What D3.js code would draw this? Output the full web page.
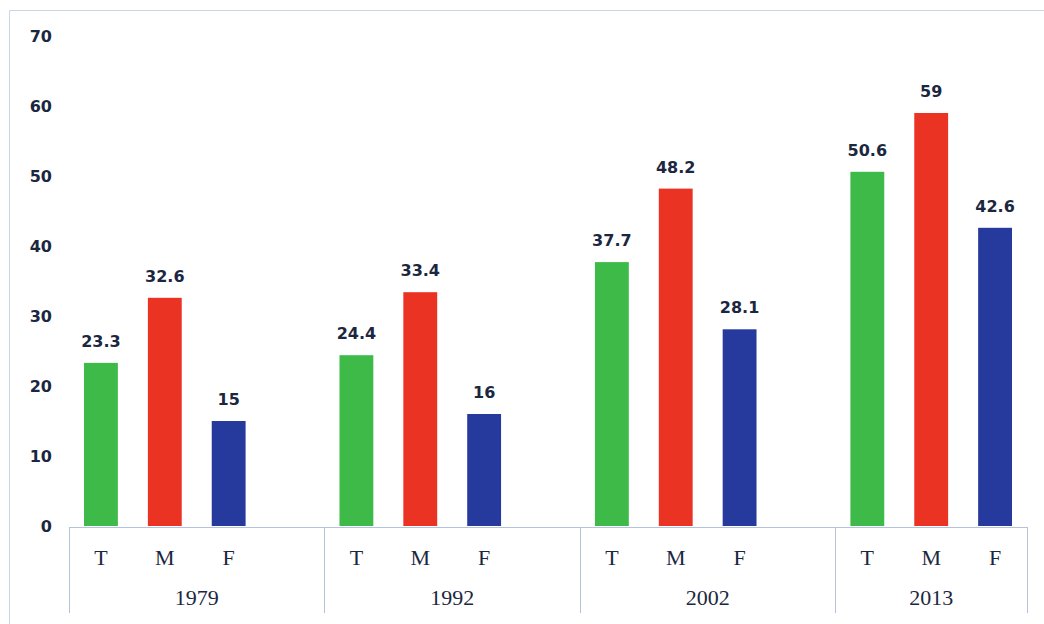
<!DOCTYPE html>
<html>
<head>
<meta charset="utf-8">
<script src="https://cdn.jsdelivr.net/npm/d3@7"></script>
<style>
  body { margin: 0; background: #fff; }
  svg { display: block; }
</style>
</head>
<body>
<svg class="chart"></svg>
<script>
// data
var years = ["1979", "1992", "2002", "2013"];
var categories = ["T", "M", "F"];
var valuesT = [23.3, 24.4, 37.7, 50.6];
var valuesM = [32.6, 33.4, 48.2, 59];
var valuesF = [15, 16, 28.1, 42.6];
var yTicks = [0, 10, 20, 30, 40, 50, 60, 70];
var colors = {T: "#3dba48", M: "#ea3323", F: "#26399c"};

var seriesByCat = {T: valuesT, M: valuesM, F: valuesF};
var rows = [];
var slots = [];
years.forEach(function(yr, i) {
  categories.forEach(function(c) {
    rows.push({year: yr, cat: c, value: seriesByCat[c][i], key: yr + c});
    slots.push(yr + c);
  });
  // empty column between years (excel style gap)
  if (i < years.length - 1) slots.push(yr + "_gap");
});

var width = 1044, height = 624;
var svg = d3.select(".chart").attr("width", width).attr("height", height);

var x = d3.scaleBand().domain(slots).range([69, 1027])
    .paddingInner(0.47).paddingOuter(0.235);
var y = d3.scaleLinear().domain([0, 70]).range([526, 36]);

// year spans: from first slot of the year to first slot of next year
var step = x.step();
function groupStart(yr) { return x(yr + "T") - x.paddingOuter() * step; }
function groupEnd(yr, i) {
  return i < years.length - 1 ? groupStart(years[i + 1]) : x.range()[1];
}

var lineColor = "#b3c4da";
var textColor = "#1b2740";

// outer frame
svg.append("path")
    .attr("d", "M9.5,624V10.5H1044")
    .attr("fill", "none").attr("stroke", "#c9d6e6");

// y tick labels
var yAxis = svg.append("g")
    .attr("transform", "translate(52,0)")
    .call(d3.axisLeft(y).tickValues(yTicks).tickSize(0).tickPadding(0));
yAxis.select(".domain").remove();
yAxis.selectAll("text")
    .attr("fill", textColor)
    .style("font-family", "DejaVu Sans")
    .style("font-weight", "bold")
    .style("font-size", "16px");

// bars
svg.append("g").selectAll("rect")
  .data(rows)
  .join("rect")
    .attr("x", function(d) { return x(d.key); })
    .attr("width", x.bandwidth())
    .attr("y", function(d) { return y(d.value); })
    .attr("height", function(d) { return y(0) - y(d.value); })
    .attr("fill", function(d) { return colors[d.cat]; });

// value labels
svg.append("g").selectAll("text")
  .data(rows)
  .join("text")
    .attr("x", function(d) { return x(d.key) + x.bandwidth() / 2; })
    .attr("y", function(d) { return y(d.value) - 16; })
    .attr("text-anchor", "middle")
    .attr("fill", textColor)
    .style("font-family", "DejaVu Sans")
    .style("font-weight", "bold")
    .style("font-size", "16px")
    .text(function(d) { return d.value; });

// table style category axis
var axisG = svg.append("g");
axisG.append("line")
    .attr("x1", x.range()[0]).attr("x2", x.range()[1])
    .attr("y1", 527.5).attr("y2", 527.5)
    .attr("stroke", lineColor);
var seps = years.map(groupStart).concat([x.range()[1]]);
axisG.selectAll("line.sep")
  .data(seps)
  .join("line")
    .attr("class", "sep")
    .attr("x1", function(d) { return Math.round(d) + 0.5; })
    .attr("x2", function(d) { return Math.round(d) + 0.5; })
    .attr("y1", 527).attr("y2", 613)
    .attr("stroke", lineColor);

axisG.selectAll("text.cat")
  .data(rows)
  .join("text")
    .attr("class", "cat")
    .attr("x", function(d) { return x(d.key) + x.bandwidth() / 2; })
    .attr("y", 565)
    .attr("text-anchor", "middle")
    .attr("fill", textColor)
    .style("font-family", "Liberation Serif")
    .style("font-size", "22px")
    .text(function(d) { return d.cat; });

axisG.selectAll("text.year")
  .data(years)
  .join("text")
    .attr("class", "year")
    .attr("x", function(d, i) { return (groupStart(d) + groupEnd(d, i)) / 2; })
    .attr("y", 605)
    .attr("text-anchor", "middle")
    .attr("fill", textColor)
    .style("font-family", "Liberation Serif")
    .style("font-size", "22px")
    .text(function(d) { return d; });
</script>
</body>
</html>
